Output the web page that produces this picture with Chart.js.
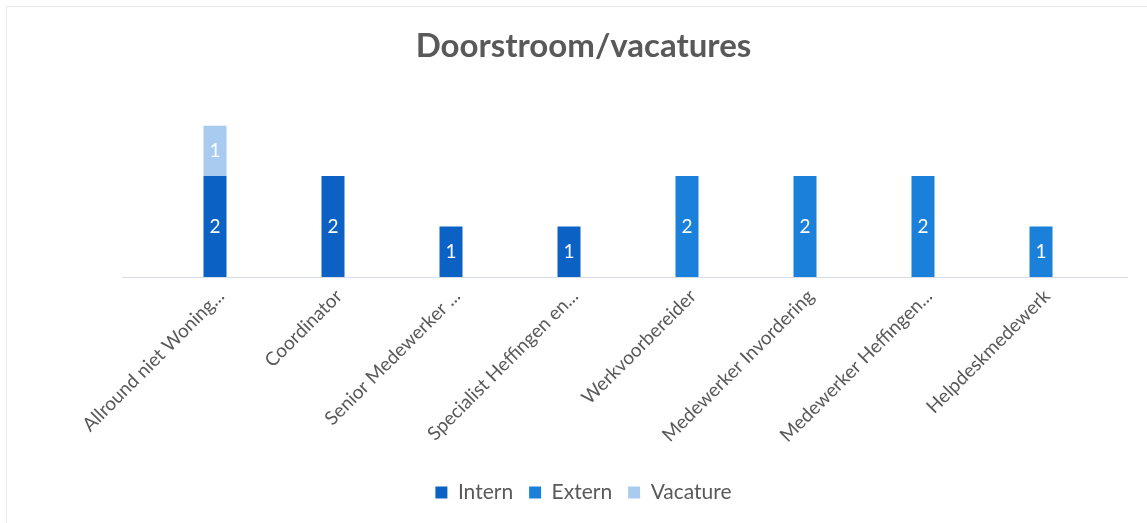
<!DOCTYPE html>
<html>
<head>
<meta charset="utf-8">
<script src="https://cdn.jsdelivr.net/npm/chart.js@4/dist/chart.umd.min.js"></script>
<style>
  html, body { margin: 0; padding: 0; background: #fff; }
  #wrap { position: relative; width: 1147px; height: 523px; }
  #frame { position: absolute; left: 6px; top: 6px; right: -2px; bottom: -2px; border: 1px solid #e6eaf0; }
</style>
</head>
<body>
<div id="wrap">
  <div id="frame"></div>
  <canvas id="chart" width="1147" height="523"></canvas>
</div>
<script>
// categories and series
const categories = [
  "Allround niet Woning...",
  "Coordinator",
  "Senior Medewerker ...",
  "Specialist Heffingen en...",
  "Werkvoorbereider",
  "Medewerker Invordering",
  "Medewerker Heffingen...",
  "Helpdeskmedewerk"
];
const intern = [2, 2, 1, 1, 0, 0, 0, 0];
const extern = [0, 0, 0, 0, 2, 2, 2, 1];
const vacature = [1, 0, 0, 0, 0, 0, 0, 0];

const grey = "#595959";
const font = "Lato";

// baseline a bit wider than the plot, like the original
const baseLine = {
  id: "baseLine",
  beforeDatasetsDraw(chart) {
    const { ctx, chartArea, scales } = chart;
    const y = Math.round(scales.y.getPixelForValue(0)) + 0.5;
    ctx.save();
    ctx.strokeStyle = "#d6dde8";
    ctx.lineWidth = 1;
    ctx.beginPath();
    ctx.moveTo(chartArea.left - 34, y);
    ctx.lineTo(chartArea.right + 28, y);
    ctx.stroke();
    ctx.restore();
  }
};

// simple in-bar value labels (no datalabels plugin available offline)
const barLabels = {
  id: "barLabels",
  afterDatasetsDraw(chart) {
    const ctx = chart.ctx;
    ctx.save();
    ctx.fillStyle = "#fff";
    ctx.font = `19px ${font}`;
    ctx.textAlign = "center";
    ctx.textBaseline = "middle";
    chart.data.datasets.forEach((ds, i) => {
      const meta = chart.getDatasetMeta(i);
      meta.data.forEach((bar, j) => {
        const v = ds.data[j];
        if (!v) return;
        ctx.fillText(String(v), bar.x, (bar.y + bar.base) / 2);
      });
    });
    ctx.restore();
  }
};

new Chart(document.getElementById("chart"), {
  type: "bar",
  data: {
    labels: categories,
    datasets: [
      { label: "Intern", data: intern, backgroundColor: "#0b62c4" },
      { label: "Extern", data: extern, backgroundColor: "#1a80d9" },
      { label: "Vacature", data: vacature, backgroundColor: "#a8cbef" }
    ]
  },
  options: {
    responsive: false,
    animation: false,
    layout: { padding: { left: 20, right: 0, top: 0, bottom: 10 } },
    datasets: {
      bar: { categoryPercentage: 1, barPercentage: 0.195 }
    },
    plugins: {
      title: {
        display: true,
        text: "Doorstroom/vacatures",
        color: grey,
        font: { family: font, size: 33, weight: "bold" },
        padding: { top: 27, bottom: 59 }
      },
      legend: {
        position: "bottom",
        labels: {
          color: grey,
          font: { family: font, size: 21 },
          boxWidth: 12,
          boxHeight: 12,
          padding: 16
        }
      },
      tooltip: { enabled: false }
    },
    scales: {
      x: {
        stacked: true,
        grid: { display: false },
        border: { display: false },
        ticks: {
          color: grey,
          font: { family: font, size: 19 },
          minRotation: 45,
          maxRotation: 45,
          autoSkip: false,
          labelOffset: 6,
          padding: 0
        },
        afterFit: s => { s.height = 189; }
      },
      y: {
        stacked: true,
        min: 0,
        max: 3,
        grid: { display: false },
        border: { display: false },
        ticks: { display: false },
        afterFit: s => { s.width = 136; }
      },
      y2: {
        position: "right",
        min: 0,
        max: 3,
        grid: { display: false },
        border: { display: false },
        ticks: { display: false },
        afterFit: s => { s.width = 47; }
      }
    }
  },
  plugins: [baseLine, barLabels]
});
</script>
</body>
</html>
